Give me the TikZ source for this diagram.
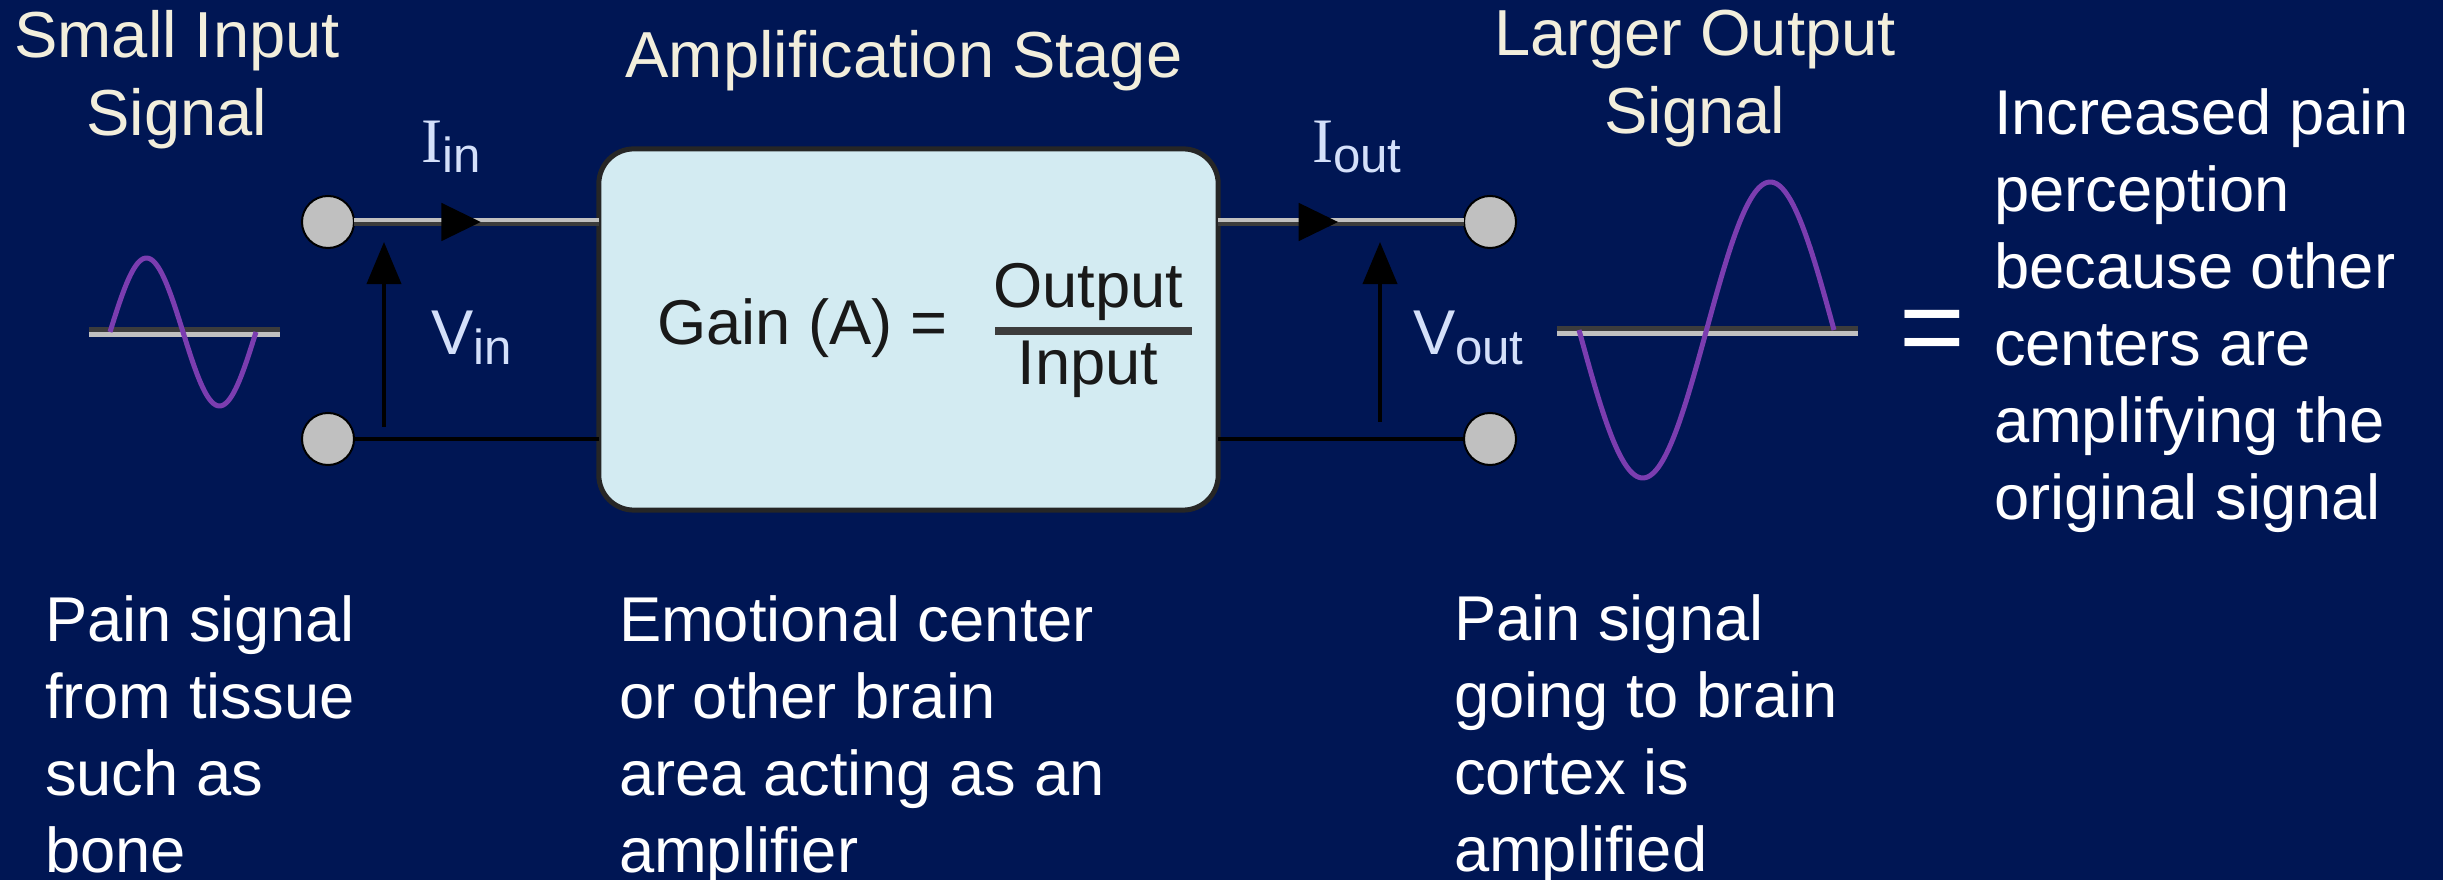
\documentclass[tikz,border=0pt]{standalone}
\usepackage{fontspec}
\setmainfont{Liberation Sans}
\newfontfamily\pixserif{Liberation Serif}
\usepackage{tikz}
\usetikzlibrary{arrows.meta, decorations.markings}
\definecolor{navy}{HTML}{001654}
\definecolor{boxfill}{HTML}{D3EBF2}
\definecolor{pixtext}{HTML}{F2EEDC}
\definecolor{tagtext}{HTML}{D4E0FA}
\definecolor{wavepurple}{HTML}{7B3DB0}
\definecolor{wiredark}{HTML}{3C3C3C}
\definecolor{wirelight}{HTML}{C0C0C0}
\newcommand{\headfont}{\fontsize{18.5}{22.2}\selectfont}
\newcommand{\bodyfont}{\fontsize{18}{21.9}\selectfont}
\newcommand{\curlabel}[1]{{\pixserif I}\raisebox{-0.1cm}{\fontsize{14}{14}\selectfont #1}}
\newcommand{\voltlabel}[1]{V\raisebox{-0.1cm}{\fontsize{14}{14}\selectfont #1}}
\tikzstyle{arrow} = [-{Triangle[length=0.42cm,width=0.34cm]}]
\tikzstyle{terminal} = [circle, fill=wirelight, draw=black, line width=0.02cm, minimum size=0.52cm]
\tikzstyle{wire} = [draw=black, line width=0.045cm]
\tikzstyle{topwire} = [draw=wiredark, line width=0.08cm, postaction={draw=wirelight, line width=0.035cm, transform canvas={yshift=0.02cm}}]
\tikzstyle{zeroline} = [draw=wiredark, line width=0.1cm, postaction={draw=wirelight, line width=0.05cm, transform canvas={yshift=-0.025cm}}]
\tikzstyle{wave} = [draw=wavepurple, line width=0.05cm, line join=round]
\tikzset{midarrow/.style={postaction={decorate, decoration={markings, mark=at position #1 with {\arrow[black]{Triangle[length=0.4cm,width=0.36cm]}}}}}}

\begin{document}
\begin{tikzpicture}[x=0.01cm, y=-0.01cm, every node/.style={inner sep=0pt, outer sep=0pt},
    ampbox/.style={rounded corners=0.35cm, fill=boxfill, draw=black!85, line width=0.05cm, minimum width=6.19cm, minimum height=3.61cm},
    headtext/.style={text=pixtext, font=\headfont, align=center},
    bodytext/.style={text=white, font=\bodyfont, align=left},
    boxtext/.style={text=black!90, font=\bodyfont},
    sigtag/.style={text=tagtext, font=\bodyfont}]
        % background
        \fill[navy] (0,0) rectangle (2443,880);
        \useasboundingbox (0,0) rectangle (2443,880);

        % Node positions
        \node[ampbox] (amp) at (908.5,329.5) {};
        \node[terminal] (tin) at (328,222) {};
        \node[terminal] (bin) at (328,439) {};
        \node[terminal] (tout) at (1490,222) {};
        \node[terminal] (bout) at (1490,439) {};

        \draw[topwire, midarrow=0.52] (tin) -- (tin -| amp.west);
        \draw[wire] (bin) -- (bin -| amp.west);
        \draw[topwire, midarrow=0.49] (amp.east |- tout) -- (tout);
        \draw[wire] (amp.east |- bout) -- (bout);

        % voltage arrows
        \coordinate (vinlo) at (384,427);
        \coordinate (vinhi) at (384,242);
        \coordinate (voutlo) at (1380,422);
        \coordinate (vouthi) at (1380,242);
        \draw[wire, line width=0.04cm, arrow] (vinlo) -- (vinhi);
        \draw[wire, line width=0.04cm, arrow] (voutlo) -- (vouthi);

        % signal labels
        \node[sigtag, anchor=base west] (iin) at (421,163) {\curlabel{in}};
        \node[sigtag, anchor=base west] (vin) at (431,355) {\voltlabel{in}};
        \node[sigtag, anchor=base west] (iout) at (1312,163) {\curlabel{out}};
        \node[sigtag, anchor=base west] (vout) at (1413,355) {\voltlabel{out}};

        % headings
        \node[headtext, anchor=north] (hin) at (177,10) {Small Input\\Signal};
        \node[headtext, anchor=north] (hamp) at (904,30) {Amplification Stage};
        \node[headtext, anchor=north] (hout) at (1695,10) {Larger Output\\Signal};

        % gain formula
        \node[boxtext, anchor=base west] (gain) at (657,345) {Gain (A) =};
        \node[boxtext, anchor=base] (num) at (1088,308) {Output};
        \node[boxtext, anchor=base] (den) at (1088,385) {Input};
        \coordinate (fracl) at (995,331);
        \coordinate (fracr) at (1192,331);
        \draw[draw=wiredark, line width=0.08cm] (fracl) -- (fracr);

        % waves
        \draw[zeroline] (89,332) -- (280,332);
        \draw[wave] plot[domain=110:256, samples=80] (\x, {332-74*sin(360/146*(\x-110))});
        \draw[zeroline] (1557,331) -- (1858,331);
        \draw[wave] plot[domain=1579:1834, samples=120] (\x, {330+148*sin(360/255*(\x-1579))});

        % texts
        \node[text=white, font=\fontsize{32}{32}\selectfont, anchor=base] (eq) at (1932,366) {=};
        \node[bodytext, anchor=north west] (result) at (1994,89) {Increased pain\\perception\\because other\\centers are\\amplifying the\\original signal};
        \node[bodytext, anchor=north west] (src) at (45,596) {Pain signal\\from tissue\\such as\\bone};
        \node[bodytext, anchor=north west] (mid) at (619,596) {Emotional center\\or other brain\\area acting as an\\amplifier};
        \node[bodytext, anchor=north west] (dst) at (1454,595) {Pain signal\\going to brain\\cortex is\\amplified};
      \end{tikzpicture}
\end{document}
